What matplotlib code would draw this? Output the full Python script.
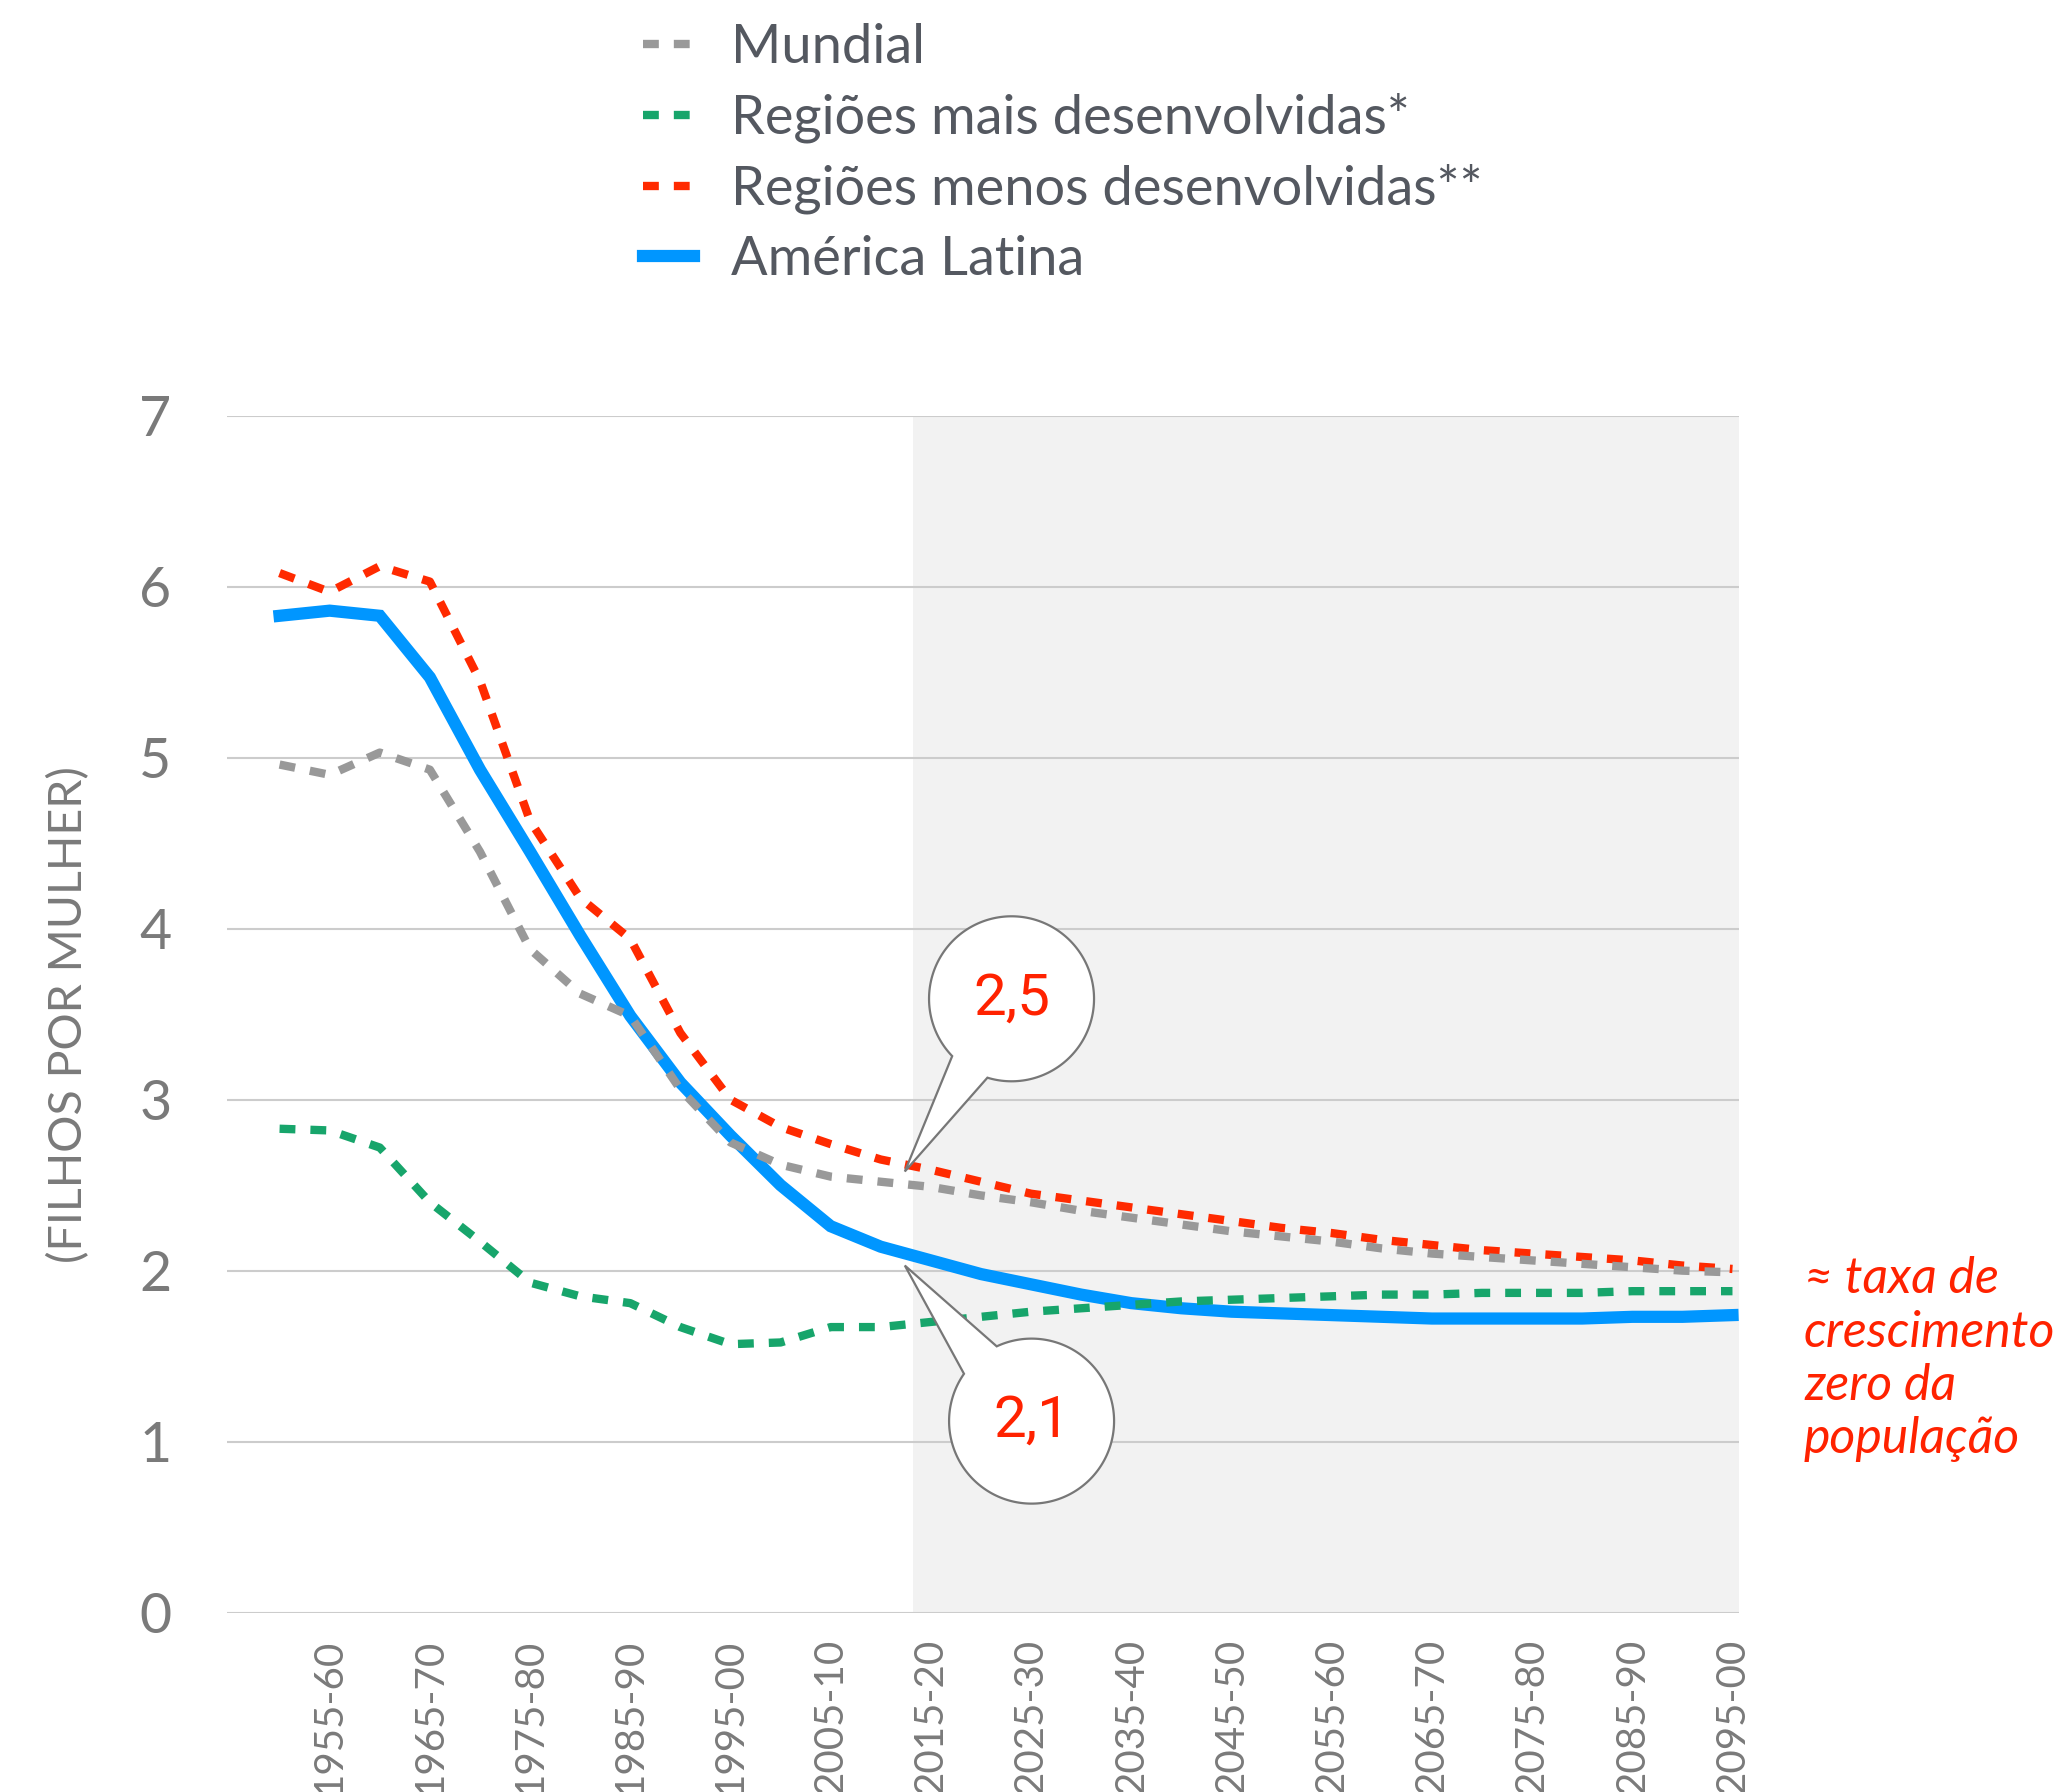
import numpy as np
import matplotlib.pyplot as plt
from matplotlib.patches import Polygon

# períodos quinquenais (eixo x)
periods = ["1950-55", "1955-60", "1960-65", "1965-70", "1970-75", "1975-80",
           "1980-85", "1985-90", "1990-95", "1995-00", "2000-05", "2005-10",
           "2010-15", "2015-20", "2020-25", "2025-30", "2030-35", "2035-40",
           "2040-45", "2045-50", "2050-55", "2055-60", "2060-65", "2065-70",
           "2070-75", "2075-80", "2080-85", "2085-90", "2090-95", "2095-00"]

# taxa de fecundidade (filhos por mulher)
mundial = [4.96, 4.90, 5.03, 4.93, 4.45, 3.88, 3.62, 3.49, 3.06, 2.75,
           2.62, 2.55, 2.52, 2.49, 2.44, 2.40, 2.35, 2.31, 2.27, 2.23,
           2.20, 2.17, 2.13, 2.10, 2.08, 2.06, 2.04, 2.02, 2.00, 1.99]
mais_desenv = [2.83, 2.82, 2.72, 2.40, 2.17, 1.93, 1.85, 1.81, 1.67, 1.57,
               1.58, 1.67, 1.67, 1.70, 1.73, 1.76, 1.78, 1.80, 1.82, 1.83,
               1.84, 1.85, 1.86, 1.86, 1.87, 1.87, 1.87, 1.88, 1.88, 1.88]
menos_desenv = [6.08, 5.97, 6.12, 6.03, 5.45, 4.63, 4.18, 3.94, 3.39, 3.00,
                2.84, 2.74, 2.65, 2.59, 2.52, 2.45, 2.41, 2.37, 2.33, 2.29,
                2.25, 2.22, 2.18, 2.15, 2.12, 2.10, 2.08, 2.06, 2.03, 2.01]
america_latina = [5.83, 5.86, 5.83, 5.47, 4.93, 4.45, 3.96, 3.49, 3.10, 2.79,
                  2.50, 2.26, 2.14, 2.06, 1.98, 1.92, 1.86, 1.81, 1.78, 1.76,
                  1.75, 1.74, 1.73, 1.72, 1.72, 1.72, 1.72, 1.73, 1.73, 1.74]

labels = ["Mundial", "Regiões mais desenvolvidas*",
          "Regiões menos desenvolvidas**", "América Latina"]

plt.rcParams['font.family'] = ['Lato', 'DejaVu Sans']

fig = plt.figure(figsize=(20.69, 17.92), dpi=100)
ax = fig.add_axes([0.1097, 0.1001, 0.7308, 0.6679])

x = np.arange(len(periods))
ax.set_xlim(-1.05, 29.13)
ax.set_ylim(0, 7)

# área de projeção
ax.axvspan(12.64, 29.13, color='#f2f2f2', lw=0, zorder=0)
ax.yaxis.grid(True, color='#cccccc', lw=1.5)
ax.set_axisbelow(True)

dash = (1.9, 1.8)
ln_blue, = ax.plot(x, america_latina, color='#0096ff', lw=8.8,
                   solid_joinstyle='miter', zorder=3)
ln_green, = ax.plot(x, mais_desenv, color='#17a56b', lw=6, ls=(0, dash),
                    dash_capstyle='butt', zorder=4)
ln_red, = ax.plot(x, menos_desenv, color='#ff2a00', lw=6, ls=(0, dash),
                  dash_capstyle='butt', zorder=4)
ln_gray, = ax.plot(x, mundial, color='#999999', lw=6, ls=(0, dash),
                   dash_capstyle='butt', zorder=5)

for s in ax.spines.values():
    s.set_visible(False)

ax.set_yticks(range(8))
ax.tick_params(axis='y', length=0, pad=40, labelsize=40, labelcolor='#7a7a7a')
ax.set_xticks(x[1::2])
ax.set_xticklabels(periods[1::2], rotation=90)
ax.tick_params(axis='x', length=0, pad=19, labelsize=29, labelcolor='#7a7a7a')

fig.text(69 / 2069, 0.5 * (0.1001 + 0.768), "(FILHOS POR MULHER)", rotation=90,
         ha='center', va='center', fontsize=33.5, color='#7a7a7a')

fig.legend([ln_gray, ln_green, ln_red, ln_blue], labels, loc='upper left',
           bbox_to_anchor=(643 / 2069, 0.987), frameon=False, fontsize=39,
           handlelength=0.95, handletextpad=0.68, labelspacing=0.38,
           borderpad=0, borderaxespad=0, labelcolor='#545860')

fig.text(1804 / 2069, 0.299, "≈ taxa de\ncrescimento\nzero da\npopulação",
         ha='left', va='top', fontsize=36, style='italic', color='#ff2200',
         linespacing=1.2)


# balões de destaque
def bubble(cx, cy, tip, a_start, a_end, text, r_px=82.5):
    p0 = ax.transData.transform((0, 0))
    sx = ax.transData.transform((1, 0))[0] - p0[0]
    sy = ax.transData.transform((0, 1))[1] - p0[1]
    rx, ry = r_px / sx, r_px / sy
    t = np.radians(np.linspace(a_end, a_start + 360, 200))
    pts = np.column_stack([cx + rx * np.cos(t), cy + ry * np.sin(t)])
    pts = np.vstack([pts, tip])
    ax.add_patch(Polygon(pts, closed=True, facecolor='white',
                         edgecolor='#777777', lw=1.6, zorder=6))
    ax.text(cx, cy, text, ha='center', va='center', fontsize=42,
            family=['Liberation Sans Narrow', 'Roboto'], color='#ff2200',
            zorder=7)


bubble(14.61, 3.59, (12.48, 2.58), 224, 253, "2,5")
bubble(15.01, 1.12, (12.48, 2.03), 115, 145, "2,1")

fig.savefig("out.png", dpi=100)
